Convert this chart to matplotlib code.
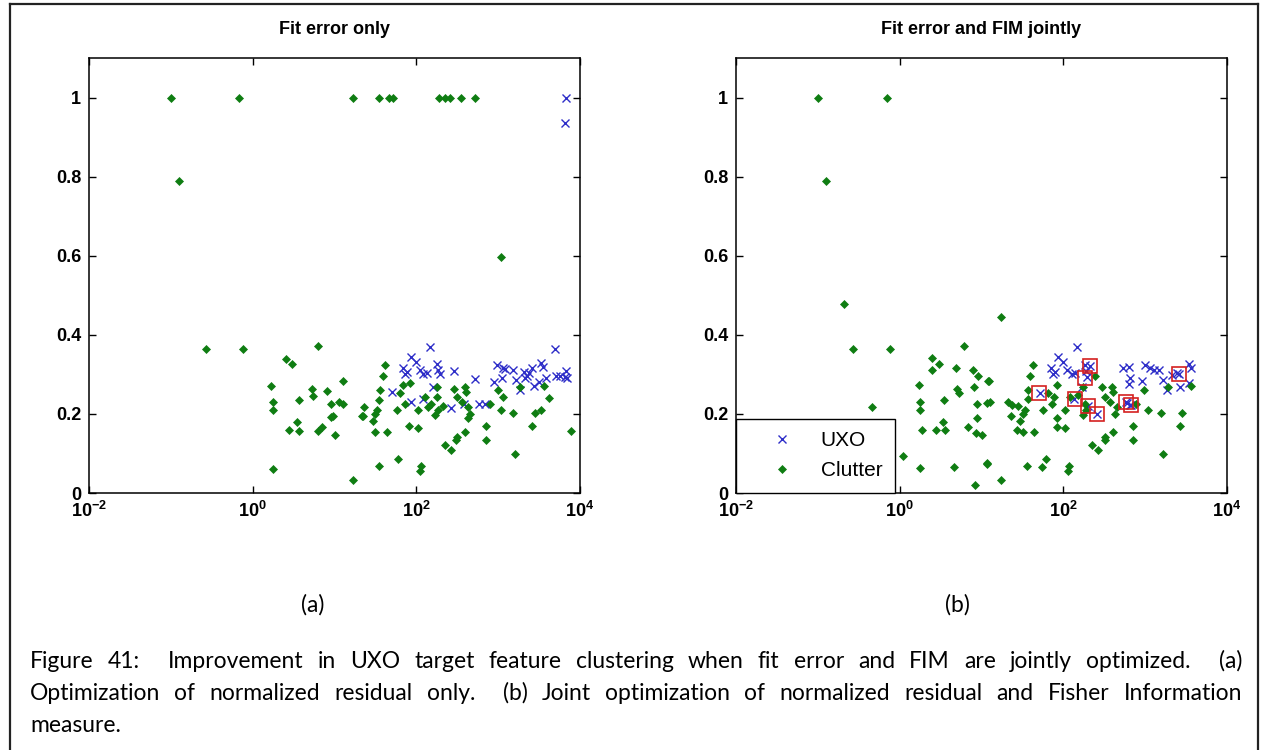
import numpy as np
import matplotlib
matplotlib.use("Agg")
import matplotlib.pyplot as plt
from matplotlib.transforms import IdentityTransform

# ---- data (x stored as log10 exponents, y) ----
clutter_a_logx = [-1.0, -0.162, 1.231, 1.549, 1.671, 1.720, 2.282, 2.352, 2.413, 2.544, 2.719,
                  -0.904, 3.033, -0.573, -0.121, 0.796, 0.408, 0.486, 1.101, 0.229, 0.722,
                  0.913, 0.253, 0.563, 0.742, 0.954, 1.06, 1.101, 0.253, 0.987, 0.954, 0.547,
                  0.449, 0.567, 0.796, 0.852, 1.011, 0.253, 1.224, 1.334,
                  1.619, 1.598, 1.843, 1.924, 1.802, 1.557, 1.549, 1.362, 1.517, 1.496, 1.346,
                  1.468, 1.500, 1.639, 1.761, 1.863, 1.916, 2.018, 2.018, 1.782, 1.549, 2.059,
                  2.047, 2.108, 2.181, 2.258, 2.258, 2.270, 2.230, 2.324, 2.148, 2.462, 2.502,
                  2.597, 2.609, 2.556, 2.637, 2.650, 2.637, 2.597, 2.502, 2.487, 2.352, 2.425,
                  2.853, 2.853, 2.902, 2.996, 3.057, 3.037, 3.187, 3.269, 3.208, 3.415, 3.444,
                  3.526, 3.566, 3.623, 3.892]
clutter_a_y = [1.0, 1.0, 1.0, 1.0, 1.0, 1.0, 1.0, 1.0, 1.0, 1.0, 1.0,
               0.790, 0.597, 0.364, 0.364, 0.372, 0.340, 0.327, 0.283, 0.271, 0.264,
               0.259, 0.231, 0.235, 0.245, 0.226, 0.229, 0.226, 0.210, 0.195, 0.193, 0.180,
               0.159, 0.157, 0.157, 0.167, 0.146, 0.061, 0.033, 0.195,
               0.323, 0.295, 0.273, 0.277, 0.252, 0.260, 0.235, 0.218, 0.210, 0.201, 0.195,
               0.183, 0.155, 0.155, 0.211, 0.224, 0.169, 0.165, 0.211, 0.086, 0.069, 0.069,
               0.056, 0.243, 0.224, 0.267, 0.243, 0.211, 0.197, 0.220, 0.218, 0.264, 0.243,
               0.267, 0.256, 0.231, 0.218, 0.201, 0.190, 0.155, 0.142, 0.134, 0.121, 0.109,
               0.169, 0.134, 0.226, 0.260, 0.243, 0.211, 0.203, 0.267, 0.098, 0.169, 0.203,
               0.211, 0.270, 0.239, 0.157]

uxo_a_logx = [2.169, 1.932, 1.843, 1.884, 1.863, 1.998, 2.047, 2.087, 2.136, 2.258, 2.270,
              2.291, 2.462, 2.209, 1.700, 1.936, 2.087, 2.422, 2.584, 2.771, 2.841, 2.719,
              2.951, 2.984, 3.057, 3.086, 3.187, 3.045, 3.220, 3.310, 3.351, 3.371, 3.412,
              3.330, 3.269, 3.432, 3.526, 3.546, 3.493, 3.587, 3.697, 3.705, 3.758, 3.831,
              3.847, 3.811, 3.831, 3.820]
uxo_a_y = [0.368, 0.343, 0.315, 0.306, 0.300, 0.332, 0.311, 0.302, 0.304, 0.326, 0.311,
           0.300, 0.309, 0.268, 0.256, 0.231, 0.237, 0.215, 0.225, 0.226, 0.225, 0.288,
           0.281, 0.323, 0.317, 0.313, 0.312, 0.290, 0.285, 0.306, 0.295, 0.304, 0.315,
           0.290, 0.260, 0.270, 0.328, 0.319, 0.281, 0.291, 0.365, 0.295, 0.295, 0.309,
           0.290, 0.294, 1.0, 0.936]

clutter_b_logx = [-1.0, -0.154, -0.904, -0.683, -0.567, -0.115, 0.783, -0.337, 0.400, 0.482,
                  0.400, 0.685, 0.897, 0.962, 1.085, 0.233, 0.702, 0.722, 0.913, 0.249, 0.249,
                  0.546, 0.942, 1.064, 0.526, 0.274, 0.441, 0.554, 0.840, 0.942, 0.930, 1.003,
                  0.038, 0.253, 0.669, 1.064, 0.922,
                  1.236, 1.236, 1.097, 1.105, 1.073, 1.635, 1.595, 1.566, 1.566, 1.329, 1.370,
                  1.451, 1.357, 1.504, 1.533, 1.472, 1.431, 1.504, 1.643, 1.554, 1.745, 1.786,
                  1.757, 1.818, 1.859, 1.888, 1.920, 1.920, 1.920, 2.022, 2.022, 2.075, 2.055,
                  2.083, 2.185, 2.238, 2.238, 2.279, 2.267, 2.389, 2.471, 2.511, 2.593, 2.605,
                  2.576, 2.637, 2.658, 2.605, 2.511, 2.511, 2.348, 2.429, 2.857, 2.857, 2.890,
                  2.991, 3.040, 3.192, 3.273, 3.212, 3.428, 3.449, 3.562]
clutter_b_y = [1.0, 1.0, 0.790, 0.477, 0.365, 0.365, 0.372, 0.218, 0.342, 0.327,
               0.312, 0.316, 0.311, 0.296, 0.283, 0.272, 0.264, 0.252, 0.267, 0.231, 0.211,
               0.235, 0.226, 0.228, 0.180, 0.159, 0.159, 0.159, 0.167, 0.190, 0.151, 0.146,
               0.093, 0.062, 0.066, 0.073, 0.020,
               0.445, 0.033, 0.284, 0.231, 0.075, 0.323, 0.295, 0.260, 0.237, 0.231, 0.222,
               0.220, 0.195, 0.199, 0.210, 0.182, 0.159, 0.155, 0.155, 0.069, 0.065, 0.086,
               0.211, 0.254, 0.224, 0.243, 0.274, 0.190, 0.167, 0.165, 0.211, 0.069, 0.056,
               0.243, 0.247, 0.267, 0.197, 0.211, 0.226, 0.295, 0.267, 0.243, 0.267, 0.256,
               0.231, 0.201, 0.218, 0.155, 0.142, 0.134, 0.121, 0.109, 0.169, 0.134, 0.226,
               0.260, 0.211, 0.203, 0.267, 0.098, 0.169, 0.203, 0.270]

uxo_b_logx = [2.172, 1.932, 1.847, 1.900, 1.870, 1.998, 2.047, 2.100, 2.144, 2.267, 2.279,
              2.287, 2.226, 1.709, 2.133, 2.410, 2.728, 2.797, 2.818, 2.797, 2.960, 2.777,
              2.818, 3.002, 3.063, 3.104, 3.165, 3.217, 3.266, 3.327, 3.388, 3.428, 3.530,
              3.560, 3.530, 2.307, 2.328, 2.765, 2.829, 3.408]
uxo_b_y = [0.368, 0.343, 0.315, 0.306, 0.300, 0.332, 0.311, 0.302, 0.304, 0.323, 0.309,
           0.294, 0.268, 0.254, 0.237, 0.201, 0.315, 0.319, 0.290, 0.275, 0.284, 0.228,
           0.222, 0.323, 0.317, 0.312, 0.311, 0.285, 0.260, 0.298, 0.304, 0.268, 0.325,
           0.317, 0.277, 0.220, 0.321, 0.231, 0.222, 0.300]

# UXO picked out with red squares in (b)
picked_logx = [1.704, 2.138, 2.267, 2.328, 2.307, 2.410, 2.765, 2.829, 3.408]
picked_y = [0.254, 0.237, 0.290, 0.321, 0.220, 0.201, 0.231, 0.222, 0.300]

titles = ["Fit error only", "Fit error and FIM jointly"]
xticks = [1e-2, 1e0, 1e2, 1e4]
xticklabels = [r"$\mathbf{10^{-2}}$", r"$\mathbf{10^{0}}$", r"$\mathbf{10^{2}}$", r"$\mathbf{10^{4}}$"]
yticks = [0, 0.2, 0.4, 0.6, 0.8, 1.0]
yticklabels = ["0", "0.2", "0.4", "0.6", "0.8", "1"]

caption = ["Figure 41:  Improvement in UXO target feature clustering when fit error and FIM are jointly optimized.  (a)",
           "Optimization of normalized residual only.  (b) Joint optimization of normalized residual and Fisher Information",
           "measure."]

# ---- style ----
plt.rcParams['font.family'] = ['Liberation Sans', 'DejaVu Sans']
plt.rcParams['mathtext.fontset'] = 'custom'
plt.rcParams['mathtext.rm'] = 'Liberation Sans'
plt.rcParams['mathtext.bf'] = 'Liberation Sans:bold'

W, H = 1264, 750
fig = plt.figure(figsize=(W / 100, H / 100), dpi=100)

green = '#0f7d12'
blue = '#2e2ec8'

def px_axes(x0, y0, x1, y1):
    return fig.add_axes([x0 / W, 1 - y1 / H, (x1 - x0) / W, (y1 - y0) / H])

ax_a = px_axes(89, 58, 580, 493)
ax_b = px_axes(736, 58, 1227, 493)

panels = [(ax_a, uxo_a_logx, uxo_a_y, clutter_a_logx, clutter_a_y),
          (ax_b, uxo_b_logx, uxo_b_y, clutter_b_logx, clutter_b_y)]

for i, (ax, ux, uy, cx, cy) in enumerate(panels):
    ax.plot(10 ** np.array(ux), uy, ls='none', marker='x', ms=6, mew=1.0, color=blue, label='UXO')
    ax.plot(10 ** np.array(cx), cy, ls='none', marker='D', ms=4.3, mew=0.5,
            color=green, mfc=green, label='Clutter')
    ax.set_xscale('log')
    ax.set_xlim(1e-2, 1e4)
    ax.set_ylim(0, 1.1)
    ax.set_xticks(xticks)
    ax.set_xticklabels(xticklabels)
    ax.minorticks_off()
    ax.set_yticks(yticks)
    ax.set_yticklabels(yticklabels)
    ax.tick_params(direction='in', length=5, width=1, top=True, right=True,
                   labelsize=13, colors='black')
    ax.tick_params(axis='y', pad=5.5)
    ax.tick_params(axis='x', pad=6)
    for lab in ax.get_yticklabels():
        lab.set_fontweight('bold')
    for sp in ax.spines.values():
        sp.set_linewidth(1.1)
    ax.set_title(titles[i], fontsize=13, fontweight='bold', pad=17)

ax_b.plot(10 ** np.array(picked_logx), picked_y, ls='none', marker='s', ms=9.5, mew=1.2,
          mfc='none', color='#d42020')

leg = ax_b.legend(loc='lower left', fontsize=15, borderaxespad=0, fancybox=False,
                  framealpha=1, edgecolor='black', handlelength=3.2, handletextpad=0.26,
                  borderpad=0.6, labelspacing=0.55)
leg.get_frame().set_linewidth(1.0)

# ---- frame around the figure ----
frame_kw = dict(color='#222222', lw=1.6, transform=IdentityTransform())
fig.add_artist(plt.Line2D([10, 1258], [H - 4, H - 4], **frame_kw))
fig.add_artist(plt.Line2D([10, 10], [0, H - 4], **frame_kw))
fig.add_artist(plt.Line2D([1258, 1258], [0, H - 4], **frame_kw))

cap_font = dict(family=['Lato', 'DejaVu Sans'], fontsize=16.5, color='black')

fig.text(313 / W, 1 - 611.7 / H, "(a)", ha='center', va='baseline', **cap_font)
fig.text(957 / W, 1 - 611.7 / H, "(b)", ha='center', va='baseline', **cap_font)

# justified caption lines
renderer = fig.canvas.get_renderer()
x_left, x_right = 30, 1242
baselines = [668, 700, 731.5]
for k, (line, yb) in enumerate(zip(caption, baselines)):
    if k == len(caption) - 1:
        fig.text(x_left, H - yb, line, ha='left', va='baseline',
                 transform=IdentityTransform(), **cap_font)
        continue
    words = line.split(' ')
    texts, widths = [], []
    for w in words:
        t = fig.text(0, H - yb, w, ha='left', va='baseline',
                     transform=IdentityTransform(), **cap_font)
        texts.append(t)
        widths.append(t.get_window_extent(renderer).width if w else 0.0)
    gap = (x_right - x_left - sum(widths)) / (len(words) - 1)
    x = x_left
    for t, w in zip(texts, widths):
        t.set_x(x)
        x += w + gap

fig.savefig('out.png', dpi=100)
